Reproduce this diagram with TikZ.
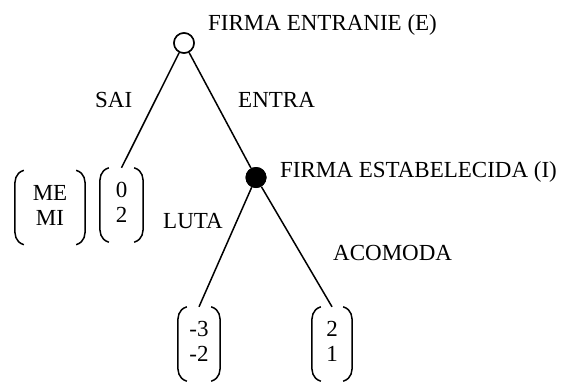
\documentclass[tikz,border=0pt]{standalone}
\usepackage{fontspec}
\setmainfont{Liberation Serif}
\begin{document}
% Entry game: entrant E moves first, incumbent I responds
\newcommand\parenpair[1]{%
  \draw[brk] ([xshift=9pt]#1.north west)
    .. controls ([yshift=-3pt]#1.north west) and ([yshift=-10pt]#1.north west) .. ([yshift=-18pt]#1.north west)
    -- ([yshift=18pt]#1.south west)
    .. controls ([yshift=10pt]#1.south west) and ([yshift=3pt]#1.south west) .. ([xshift=9pt]#1.south west);
  \draw[brk] ([xshift=-9pt]#1.north east)
    .. controls ([yshift=-3pt]#1.north east) and ([yshift=-10pt]#1.north east) .. ([yshift=-18pt]#1.north east)
    -- ([yshift=18pt]#1.south east)
    .. controls ([yshift=10pt]#1.south east) and ([yshift=3pt]#1.south east) .. ([xshift=-9pt]#1.south east);}
\begin{tikzpicture}[x=1pt,y=-1pt,
  every node/.style={font=\fontsize{23}{25}\selectfont},
  edge/.style={line width=1.5pt},
  brk/.style={line width=1.5pt},
  lbl/.style={anchor=base west,inner sep=0pt},
  payoff/.style={inner sep=0pt,minimum height=74pt},
  opennode/.style={circle,draw,fill=white,line width=1.5pt,minimum size=20pt,inner sep=0pt},
  fullnode/.style={circle,fill=black,minimum size=21pt,inner sep=0pt}]
\useasboundingbox (0,0) rectangle (562,381);

% decision nodes
\node[opennode] (E) at (184,43) {};
\node[fullnode] (I) at (256,177.5) {};

% payoff vectors
\node[payoff,minimum width=70pt] (pME) at (50,207.5)
  {\begin{tabular}{@{}c@{}}ME\\MI\end{tabular}};
\node[payoff,minimum width=43pt] (p02) at (121.5,205)
  {\begin{tabular}{@{}c@{}}0\\2\end{tabular}};
\node[payoff,minimum width=42pt] (pL) at (199,344)
  {\begin{tabular}{@{}l@{}}-3\\-2\end{tabular}};
\node[payoff,minimum width=40pt] (pA) at (332,344)
  {\begin{tabular}{@{}c@{}}2\\1\end{tabular}};
\parenpair{pME}
\parenpair{p02}
\parenpair{pL}
\parenpair{pA}

% branches
\draw[edge] (E) -- (p02.north);
\draw[edge] (E) -- (I);
\draw[edge] (I) -- (pL.north);
\draw[edge] (I) -- (pA.north);
\node[opennode] at (E) {};
\node[fullnode] at (I) {};

% labels
\node[lbl] (tE) at (208,30) {FIRMA ENTRANIE (E)};
\node[lbl] (tSai) at (95,107) {SAI};
\node[lbl] (tEntra) at (238,107) {ENTRA};
\node[lbl] (tI) at (280,177) {FIRMA ESTABELECIDA (I)};
\node[lbl] (tLuta) at (163,228) {LUTA};
\node[lbl] (tAcomoda) at (333,260) {ACOMODA};
\end{tikzpicture}
\end{document}
